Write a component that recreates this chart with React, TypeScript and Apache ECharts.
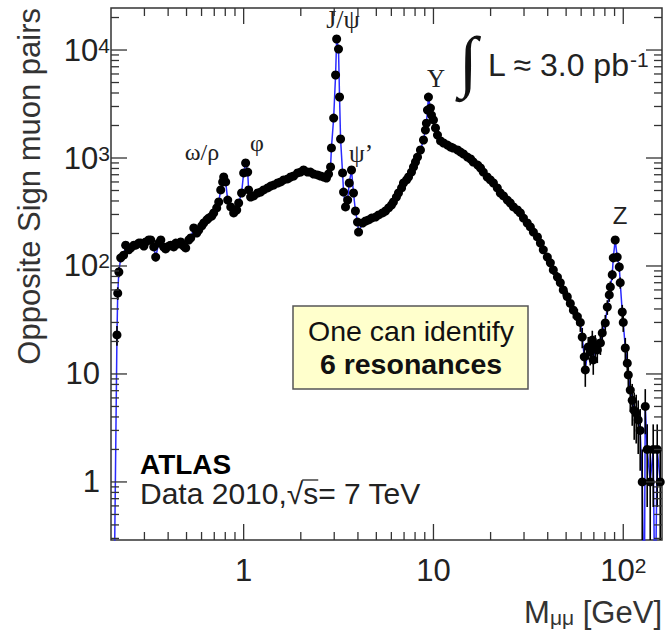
import React, { useEffect, useRef } from "react";
import * as echarts from "echarts";

// [mass in GeV, opposite-sign muon pairs per bin]  (0.05 = empty bin, below the axis)
const lowMassPoints: [number, number][] = [
  [0.207, 0.05], [0.215, 23], [0.217, 56], [0.22, 88], [0.225, 119], [0.233, 126], [0.239, 156],
  [0.248, 141], [0.254, 147], [0.264, 156], [0.27, 156], [0.28, 163], [0.287, 163], [0.298, 153],
  [0.305, 167], [0.316, 174], [0.324, 174], [0.336, 150], [0.344, 121], [0.357, 163], [0.366, 174],
  [0.379, 150], [0.388, 144], [0.403, 153], [0.413, 156], [0.428, 150], [0.439, 163], [0.455, 160],
  [0.466, 167], [0.483, 153], [0.495, 147], [0.514, 174], [0.526, 182], [0.546, 225], [0.566, 202],
  [0.58, 215], [0.601, 235], [0.616, 250], [0.639, 267], [0.654, 278], [0.679, 290], [0.695, 310],
  [0.721, 345], [0.739, 392], [0.757, 506], [0.775, 600], [0.785, 667], [0.804, 600], [0.824, 408],
  [0.855, 352], [0.886, 310], [0.919, 330], [0.941, 383], [0.975, 474], [1.0, 727], [1.024, 899],
  [1.05, 741], [1.062, 506], [1.088, 435],
];

const charmoniumPoints: [number, number][] = [
  [1.129, 445], [1.185, 474], [1.228, 484], [1.274, 506], [1.337, 528], [1.387, 550], [1.438, 562],
  [1.51, 587], [1.566, 600], [1.624, 626], [1.705, 640], [1.767, 667], [1.833, 681], [1.923, 727],
  [1.995, 741], [2.069, 774], [2.17, 741], [2.25, 741], [2.335, 711], [2.45, 697], [2.54, 681],
  [2.64, 667], [2.73, 653], [2.8, 711], [2.87, 826], [2.9, 1239], [2.98, 2344], [3.05, 5870],
  [3.09, 12650], [3.16, 10200], [3.2, 3672], [3.24, 1500], [3.32, 727], [3.36, 484], [3.44, 352],
  [3.53, 408], [3.6, 587], [3.7, 774], [3.79, 474], [3.88, 323], [3.98, 255], [4.03, 206],
];

const upsilonPoints: [number, number][] = [
  [4.23, 250], [4.39, 261], [4.55, 267], [4.72, 278], [4.95, 284], [5.14, 297], [5.39, 310],
  [5.59, 323], [5.8, 345], [6.01, 367], [6.15, 392], [6.38, 435], [6.54, 474], [6.79, 528],
  [6.95, 587], [7.21, 626], [7.39, 667], [7.66, 741], [7.85, 826], [8.04, 918], [8.24, 1020],
  [8.54, 1186], [8.86, 1468], [9.07, 1815], [9.18, 2100], [9.3, 2780], [9.41, 3670], [9.64, 2900],
  [9.76, 2500], [10.0, 2250],
];

const drellYanPoints: [number, number][] = [
  [10.25, 1900], [10.5, 1630], [10.9, 1440], [11.3, 1377], [11.85, 1318], [12.3, 1265], [12.7, 1237],
  [13.4, 1186], [13.9, 1136], [14.4, 1089], [15.1, 1020], [15.7, 979], [16.2, 918], [17.1, 861],
  [17.7, 808], [18.3, 741], [19.2, 667], [19.95, 626], [20.7, 587], [21.7, 528], [22.5, 474],
  [23.4, 445], [24.5, 408], [25.4, 383], [26.4, 352], [27.7, 330], [28.7, 310], [29.8, 278],
  [31.2, 250], [32.4, 230], [33.6, 206], [35.3, 186], [36.6, 163], [37.9, 141], [39.8, 121],
  [41.3, 107], [42.8, 92], [45.0, 79], [46.6, 70], [48.3, 60], [50.7, 52], [52.6, 45], [54.6, 39],
  [57.3, 34], [59.4, 30],
];

const zPoints: [number, number][] = [
  [60.8, 22], [62.3, 14.4], [63.1, 10.9], [65.4, 17.8], [67.0, 16], [68.7, 20.6], [69.5, 13.5],
  [71.2, 18.6], [73.0, 16.7], [75.8, 19.4], [77.5, 24], [80.4, 29.7], [82.4, 41.7], [84.4, 53.9],
  [85.5, 64], [87.5, 83], [88.6, 119], [90.7, 174], [92.9, 121], [95.3, 98], [96.4, 70], [98.8, 37.5],
  [100, 30], [102.5, 17.4], [105, 12.6], [106.3, 9.8], [108.9, 7.1], [111.5, 5.7], [114.2, 4.6],
  [117, 4.35], [119.9, 3.75], [122.8, 3], [125.9, 1], [129, 0.05], [130.6, 5], [133.7, 2],
  [138.7, 1], [143.8, 2], [147, 0.05], [151, 2], [156.6, 1],
];

const X_MIN = 0.2;
const X_MAX = 160;
const Y_MIN = 0.29;
const Y_MAX = 24500;

const xMajorTicks = [1, 10, 100];
const yMajorTicks = [1, 10, 100, 1000, 10000];
const tickDecades = [0.1, 1, 10, 100, 1000, 10000];
const minorMultipliers = [2, 3, 4, 5, 6, 7, 8, 9];

const xTickLabels: Record<string, string> = { "1": "1", "10": "10", "100": "10{sup|2}" };
const yTickLabels: Record<string, string> = {
  "1": "1{pad| }",
  "10": "10{pad| }",
  "100": "10{sup|2}",
  "1000": "10{sup|3}",
  "10000": "10{sup|4}",
};

const yTitle = "Opposite Sign muon pairs";
const xTitle = "M{sub|μμ} [GeV]";
const resonanceLabels = ["ω/ρ", "φ", "J/ψ", "ψ’", "Υ", "Z"];
const experimentLabel = "ATLAS";
const dataLabel = "Data 2010,√s= 7 TeV";
const lumiLabel = "L ≈ 3.0 pb{sup|-1}";
const boxLines = ["One can identify", "6 resonances"];

const SANS = '"Liberation Sans", Arial, Helvetica, sans-serif';
const SERIF = '"Liberation Serif", "DejaVu Serif", "Times New Roman", serif';
const TEXT = "#222";

function labelFor(map: Record<string, string>, v: number) {
  const e = Math.round(Math.log10(v));
  const p = Math.pow(10, e);
  if (Math.abs(v - p) / p > 1e-6) return "";
  return map[String(p)] ?? "";
}

function measure(text: string, font: string) {
  const ctx = document.createElement("canvas").getContext("2d");
  if (!ctx) return text.length * 15;
  ctx.font = font;
  return ctx.measureText(text).width;
}

export default function App() {
  const ref = useRef<HTMLDivElement>(null);

  useEffect(() => {
    if (!ref.current) return;
    const chart = echarts.init(ref.current, null, { renderer: "svg" });

    const all = [...lowMassPoints, ...charmoniumPoints, ...upsilonPoints, ...drellYanPoints, ...zPoints];

    const errData: number[][] = [];
    all.forEach((p, i) => {
      const [m, n] = p;
      if (n < Y_MIN) return;
      const prev = i > 0 ? all[i - 1][0] : m;
      const next = i < all.length - 1 ? all[i + 1][0] : m;
      const mLo = Math.max(Math.sqrt(prev * m), X_MIN);
      const mHi = Math.min(Math.sqrt(next * m), X_MAX);
      const err = Math.sqrt(n);
      const nLo = Math.max(n - err, Y_MIN);
      const nHi = Math.min(n + err, Y_MAX);
      errData.push([m, n, mLo, mHi, nLo, nHi]);
    });

    const tickData: number[][] = [];
    xMajorTicks.forEach((v) => tickData.push([v, 1, 0, 1]));
    yMajorTicks.forEach((v) => tickData.push([1, v, 1, 1]));
    tickDecades.forEach((d) =>
      minorMultipliers.forEach((k) => {
        const v = k * d;
        if (v > X_MIN * 1.01 && v < X_MAX) tickData.push([v, 1, 0, 0]);
        if (v > Y_MIN * 1.01 && v < Y_MAX) tickData.push([1, v, 1, 0]);
      })
    );

    const dataFont = `30px ${SANS}`;
    const sqrtStart = 140 + measure("Data 2010,√", dataFont);
    const sWidth = measure("s", dataFont);

    const option: any = {
      animation: false,
      backgroundColor: "#ffffff",
      grid: {
        left: 111,
        right: 3,
        top: 8,
        bottom: 90,
        show: true,
        borderColor: "#333",
        borderWidth: 1.5,
        containLabel: false,
        outerBoundsMode: "none",
      },
      xAxis: {
        type: "log",
        logBase: 10,
        min: X_MIN,
        max: X_MAX,
        axisLine: { show: false },
        axisTick: { show: false },
        splitLine: { show: false },
        minorTick: { show: false },
        axisLabel: {
          margin: 15,
          interval: 0,
          color: TEXT,
          fontSize: 31,
          fontFamily: SANS,
          formatter: (v: number) => labelFor(xTickLabels, v),
          rich: { sup: { fontSize: 21, fontFamily: SANS, color: TEXT, verticalAlign: "top" } },
        },
      },
      yAxis: {
        type: "log",
        logBase: 10,
        min: Y_MIN,
        max: Y_MAX,
        axisLine: { show: false },
        axisTick: { show: false },
        splitLine: { show: false },
        minorTick: { show: false },
        axisLabel: {
          margin: 1,
          interval: 0,
          color: TEXT,
          fontSize: 31,
          fontFamily: SANS,
          formatter: (v: number) => labelFor(yTickLabels, v),
          rich: {
            sup: { fontSize: 21, fontFamily: SANS, color: TEXT, verticalAlign: "top" },
            pad: { width: 10, fontSize: 21 },
          },
        },
      },
      series: [
        {
          type: "line",
          name: "line",
          z: 2,
          showSymbol: false,
          symbol: "none",
          clip: true,
          lineStyle: { color: "#2a2aff", width: 1.5 },
          data: all,
        },
        {
          type: "custom",
          name: "errors",
          z: 3,
          data: errData,
          encode: { x: 0, y: 1 },
          renderItem: (_params: any, api: any) => {
            const c = api.coord([api.value(0), api.value(1)]);
            const l = api.coord([api.value(2), api.value(1)]);
            const r = api.coord([api.value(3), api.value(1)]);
            const lo = api.coord([api.value(0), api.value(4)]);
            const hi = api.coord([api.value(0), api.value(5)]);
            const style = { stroke: "#000", lineWidth: 1.6 };
            return {
              type: "group",
              children: [
                { type: "line", shape: { x1: c[0], y1: hi[1], x2: c[0], y2: lo[1] }, style },
                { type: "line", shape: { x1: l[0], y1: c[1], x2: r[0], y2: c[1] }, style },
              ],
            };
          },
        },
        {
          type: "scatter",
          name: "data",
          z: 4,
          symbol: "circle",
          symbolSize: 9,
          itemStyle: { color: "#000", opacity: 1 },
          data: all.filter((p) => p[1] >= Y_MIN),
        },
        {
          type: "custom",
          name: "ticks",
          z: 5,
          data: tickData,
          encode: { x: 0, y: 1 },
          renderItem: (params: any, api: any) => {
            const cs = params.coordSys;
            const kind = api.value(2);
            const len = api.value(3) ? 16 : 8;
            const style = { stroke: "#333", lineWidth: 1.3 };
            if (kind === 0) {
              const px = api.coord([api.value(0), 1])[0];
              const b = cs.y + cs.height;
              return {
                type: "group",
                children: [
                  { type: "line", shape: { x1: px, y1: b, x2: px, y2: b - len }, style },
                  { type: "line", shape: { x1: px, y1: cs.y, x2: px, y2: cs.y + len }, style },
                ],
              };
            }
            const py = api.coord([1, api.value(1)])[1];
            const rgt = cs.x + cs.width;
            return {
              type: "group",
              children: [
                { type: "line", shape: { x1: cs.x, y1: py, x2: cs.x + len, y2: py }, style },
                { type: "line", shape: { x1: rgt, y1: py, x2: rgt - len, y2: py }, style },
              ],
            };
          },
        },
      ],
      graphic: [
        {
          type: "text",
          x: 29,
          y: 8,
          rotation: Math.PI / 2,
          style: {
            text: yTitle,
            fill: "#333",
            fontSize: 31,
            fontFamily: SANS,
            align: "right",
            verticalAlign: "middle",
          },
        },
        {
          type: "text",
          x: 662,
          y: 612,
          style: {
            text: xTitle,
            fill: "#333",
            fontSize: 31,
            fontFamily: SANS,
            align: "right",
            verticalAlign: "middle",
            rich: { sub: { fontSize: 21, fontFamily: SANS, fill: "#333", verticalAlign: "bottom" } },
          },
        },
        { type: "text", x: 202, y: 152, style: { text: resonanceLabels[0], fill: TEXT, fontSize: 24, fontFamily: SERIF, align: "center", verticalAlign: "middle" } },
        { type: "text", x: 257, y: 143, style: { text: resonanceLabels[1], fill: TEXT, fontSize: 24, fontFamily: SERIF, align: "center", verticalAlign: "middle" } },
        { type: "text", x: 343, y: 19, style: { text: resonanceLabels[2], fill: TEXT, fontSize: 26, fontFamily: SERIF, align: "center", verticalAlign: "middle" } },
        { type: "text", x: 361, y: 153, style: { text: resonanceLabels[3], fill: TEXT, fontSize: 25, fontFamily: SERIF, align: "center", verticalAlign: "middle" } },
        { type: "text", x: 436, y: 78, style: { text: resonanceLabels[4], fill: TEXT, fontSize: 25, fontFamily: SERIF, align: "center", verticalAlign: "middle" } },
        { type: "text", x: 620, y: 215, style: { text: resonanceLabels[5], fill: TEXT, fontSize: 24, fontFamily: SANS, align: "center", verticalAlign: "middle" } },
        { type: "text", x: 468, y: 61, style: { text: "∫", fill: "#111", fontSize: 68, fontFamily: SERIF, align: "center", verticalAlign: "middle" } },
        {
          type: "text",
          x: 488,
          y: 65,
          style: {
            text: lumiLabel,
            fill: TEXT,
            fontSize: 32,
            fontFamily: SANS,
            align: "left",
            verticalAlign: "middle",
            rich: { sup: { fontSize: 21, fontFamily: SANS, fill: TEXT, verticalAlign: "top" } },
          },
        },
        {
          type: "rect",
          shape: { x: 293, y: 306, width: 235, height: 83 },
          style: { fill: "#ffffcc", stroke: "#555", lineWidth: 1.5 },
        },
        { type: "text", x: 411, y: 331, style: { text: boxLines[0], fill: "#111", fontSize: 28.5, fontFamily: SANS, align: "center", verticalAlign: "middle" } },
        { type: "text", x: 411, y: 364, style: { text: boxLines[1], fill: "#111", fontSize: 28.5, fontWeight: "bold", fontFamily: SANS, align: "center", verticalAlign: "middle" } },
        { type: "text", x: 140, y: 464, style: { text: experimentLabel, fill: "#000", fontSize: 28, fontWeight: "bold", fontFamily: SANS, align: "left", verticalAlign: "middle" } },
        { type: "text", x: 140, y: 493, style: { text: dataLabel, fill: TEXT, fontSize: 30, fontFamily: SANS, align: "left", verticalAlign: "middle" } },
        {
          type: "line",
          shape: { x1: sqrtStart - 1, y1: 480, x2: sqrtStart + sWidth, y2: 480 },
          style: { stroke: TEXT, lineWidth: 1.3 },
        },
      ],
    };

    chart.setOption(option);
    return () => chart.dispose();
  }, []);

  return (
    <div
      ref={ref}
      style={{ position: "fixed", left: 0, top: 0, width: 665, height: 630, background: "#fff" }}
    />
  );
}
